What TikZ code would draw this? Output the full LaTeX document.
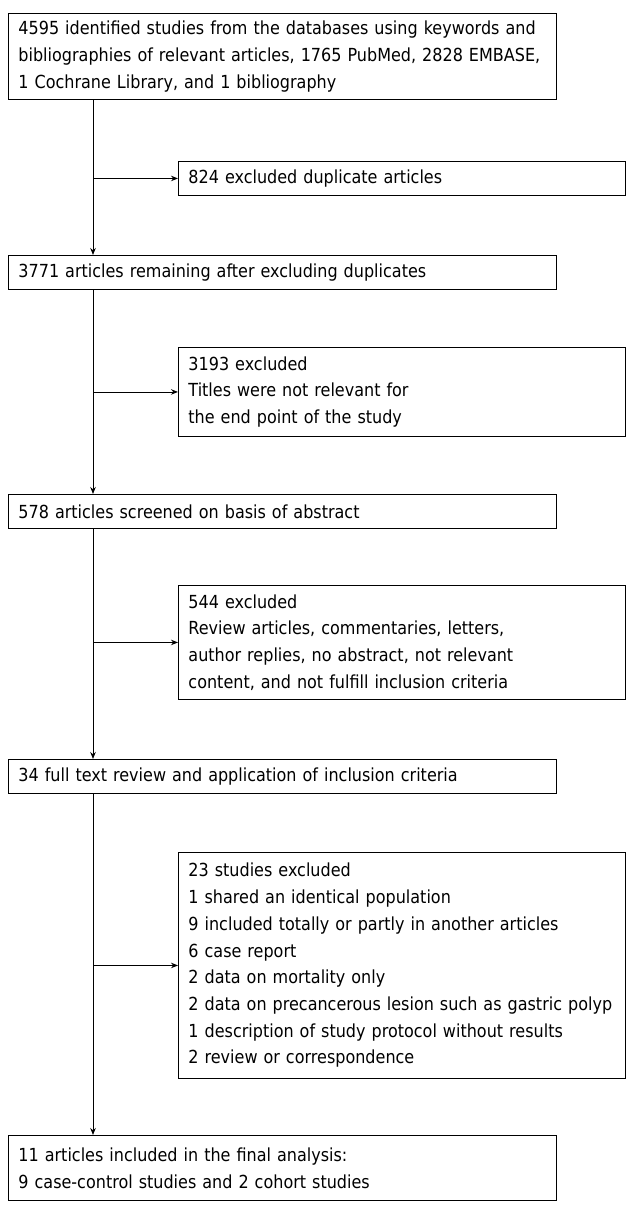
\documentclass[tikz,border=0pt]{standalone}
\usepackage{fontspec}
\setmainfont{DejaVu Sans}[FakeStretch=0.89]
\usetikzlibrary{arrows.meta,positioning}
\tikzset{
  box/.style={draw, line width=0.9pt, anchor=north west, inner sep=0pt, align=left, font=\fontsize{18}{26.7}\selectfont},
  mainbox/.style={box, minimum width=548pt, text width=528pt},
  sidebox/.style={box, minimum width=447pt, text width=427pt},
  arr/.style={line width=0.9pt, -{Stealth[length=7pt,width=5.5pt]}}
}
\begin{document}
\begin{tikzpicture}[x=1pt,y=-1pt]
\useasboundingbox (0,0) rectangle (630,1212);
\coordinate (spine) at (93,0);
\node[mainbox, minimum height=86pt] (b1) at (8,13) {4595 identified studies from the databases using keywords and\\bibliographies of relevant articles, 1765 PubMed, 2828 EMBASE,\\1 Cochrane Library, and 1 bibliography};
\node[sidebox, minimum height=34pt] (b2) at (178,161) {824 excluded duplicate articles};
\node[mainbox, minimum height=34pt] (b3) at (8,255) {3771 articles remaining after excluding duplicates};
\node[sidebox, minimum height=89pt] (b4) at (178,347) {3193 excluded\\Titles were not relevant for\\the end point of the study};
\node[mainbox, minimum height=34pt] (b5) at (8,494) {578 articles screened on basis of abstract};
\node[sidebox, minimum height=114pt] (b6) at (178,585) {544 excluded\\Review articles, commentaries, letters,\\author replies, no abstract, not relevant\\content, and not fulfill inclusion criteria};
\node[mainbox, minimum height=34pt] (b7) at (8,759) {34 full text review and application of inclusion criteria};
\node[sidebox, minimum height=226pt] (b8) at (178,852) {23 studies excluded\\1 shared an identical population\\9 included totally or partly in another articles\\6 case report\\2 data on mortality only\\2 data on precancerous lesion such as gastric polyp\\1 description of study protocol without results\\2 review or correspondence};
\node[mainbox, minimum height=65pt] (b9) at (8,1135) {11 articles included in the final analysis:\\9 case-control studies and 2 cohort studies};
\draw[arr] (b1.south -| spine) -- (b3.north -| spine);
\draw[arr] (b3.south -| spine) -- (b5.north -| spine);
\draw[arr] (b5.south -| spine) -- (b7.north -| spine);
\draw[arr] (b7.south -| spine) -- (b9.north -| spine);
\draw[arr] (b2.west -| spine) -- (b2.west);
\draw[arr] (b4.west -| spine) -- (b4.west);
\draw[arr] (b6.west -| spine) -- (b6.west);
\draw[arr] (b8.west -| spine) -- (b8.west);
\end{tikzpicture}
\end{document}
